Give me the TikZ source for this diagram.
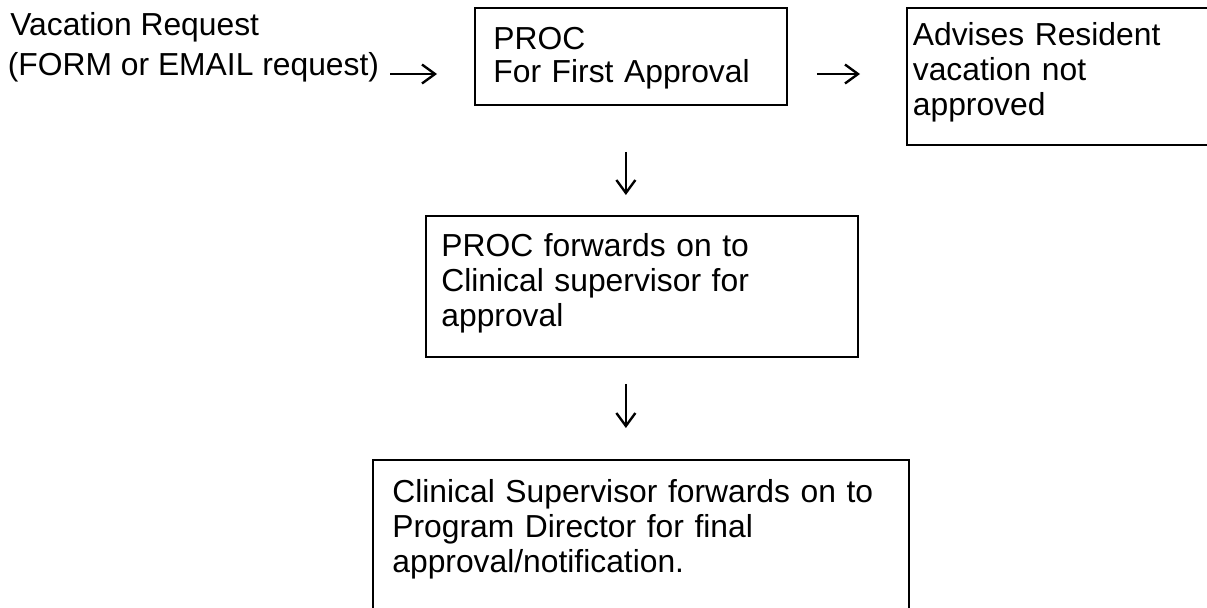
\documentclass[tikz,border=0pt]{standalone}
\usepackage{fontspec}
\setmainfont{Liberation Sans}
\usepackage{tikz}
\usetikzlibrary{arrows.meta,positioning,calc}
\tikzset{
  txt/.style={inner sep=0pt,font=\fontsize{18.1pt}{19.9pt}\selectfont},
  box/.style={draw=black,line width=1pt,align=left,anchor=north west,
              text height=0.46cm,font=\fontsize{18.1pt}{19.9pt}\selectfont},
  flow/.style={-{Straight Barb[length=0.26cm,width=0.38cm]},line width=1.35pt},
}

\begin{document}
\begin{tikzpicture}
  \useasboundingbox (0,0) rectangle (24.14,12.14);
  % request text
  \node[txt,anchor=base west] (vac) at (0.2,11.42) {Vacation Request};
  \node[txt,anchor=base west] (req) at (0.15,10.64) {(FORM or EMAIL request)};
  % boxes
  \node[box,font=\fontsize{18.1pt}{18.6pt}\selectfont,inner xsep=0.37cm,inner ysep=0.38cm,
        text width=5.5cm,text depth=0.72cm]
    (proc) at (9.48,12.0) {PROC\\For First Approval};
  \node[box,inner xsep=0.12cm,inner ysep=0.3cm,text width=6.56cm,text depth=1.68cm]
    (adv) at (18.12,12.0) {Advises Resident\\vacation not\\approved};
  \node[box,inner xsep=0.31cm,inner ysep=0.36cm,text width=8.02cm,text depth=1.64cm]
    (fwd) at (8.5,7.84) {PROC forwards on to\\Clinical supervisor for\\approval};
  \node[box,inner xsep=0.39cm,inner ysep=0.4cm,text width=9.94cm,text depth=2.14cm]
    (final) at (7.44,2.96) {Clinical Supervisor forwards on to\\Program Director for final\\approval/notification.};
  % arrows
  \coordinate (lvl) at ([yshift=0.02cm]req.base east);
  \draw[flow,shorten <=0.22cm,shorten >=0.74cm] (lvl) -- (lvl -| proc.west);
  \draw[flow,shorten <=0.58cm,shorten >=0.92cm] (lvl -| proc.east) -- (lvl -| adv.west);
  \draw[flow,shorten <=0.92cm,shorten >=0.4cm]
    ([xshift=-0.1cm]proc.south) -- ([xshift=-0.1cm]proc.south |- fwd.north);
  \draw[flow,shorten <=0.52cm,shorten >=0.62cm]
    ([xshift=-0.1cm]proc.south |- fwd.south) -- ([xshift=-0.1cm]proc.south |- final.north);
\end{tikzpicture}
\end{document}
